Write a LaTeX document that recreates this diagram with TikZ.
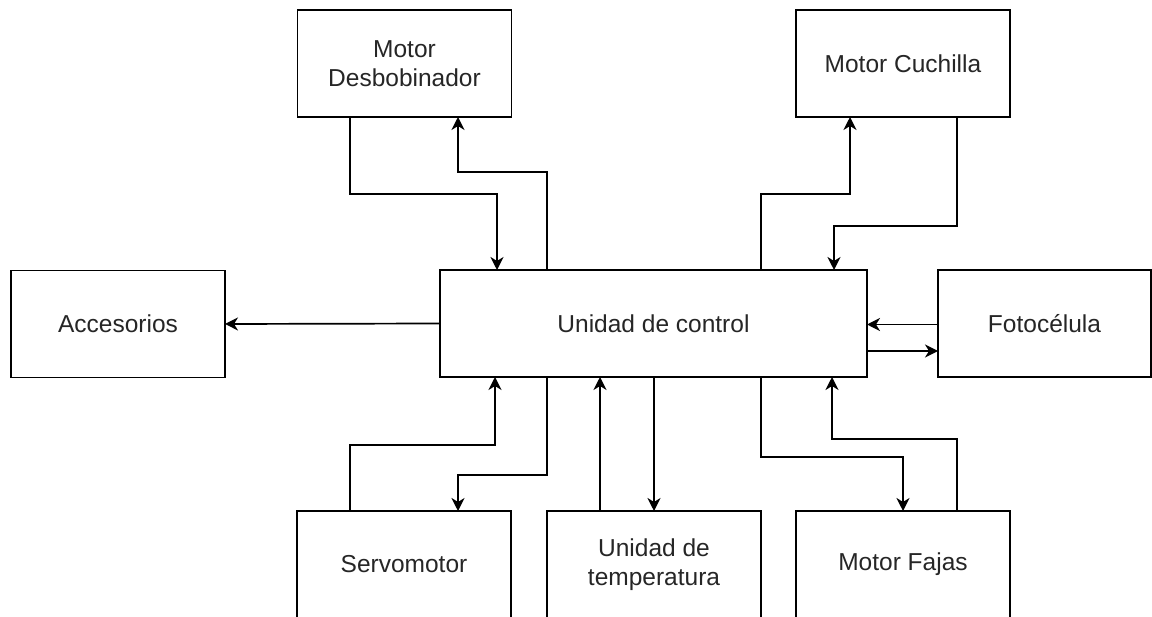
\documentclass[tikz,border=0pt]{standalone}
\usepackage{fontspec}
\setmainfont{Liberation Sans}
\usetikzlibrary{arrows.meta}
\begin{document}
\begin{tikzpicture}[x=1pt,y=-1pt,
  block/.style={draw, line width=1.7pt, outer sep=0pt, minimum width=214pt,
    minimum height=107pt, align=center, text=black!85,
    font=\fontsize{24.5}{28.5}\selectfont},
  arr/.style={line width=1.7pt, -{Stealth[length=13pt,width=13pt,inset=4pt]}}]
\useasboundingbox (0,0) rectangle (1152,617);
\fill[white] (0,0) rectangle (1152,617);
\clip (0,0) rectangle (1152,617);

% blocks
\node[block] (desb)  at (404.5,63.5) {Motor\\Desbobinador};
\node[block] (cuch)  at (903,63.5)   {Motor Cuchilla};
\node[block] (acc)   at (118,324)    {Accesorios};
\node[block, minimum width=427pt] (ctrl) at (653.5,323.5) {Unidad de control};
\node[block, minimum width=213pt] (foto) at (1044.5,323.5) {Fotocélula};
\node[block] (servo) at (404,564.5)  {Servomotor};
\node[block] (temp)  at (654,564.5)  {Unidad de\\temperatura};
\node[block] (fajas) at (903,564.5)  {Motor Fajas};

% upper links
\draw[arr] ([xshift=-54.5pt]desb.south) -- ++(0,77) -| ([xshift=-156.5pt]ctrl.north);
\draw[arr] ([xshift=-106.5pt]ctrl.north) -- ++(0,-98) -| ([xshift=53.5pt]desb.south);
\draw[arr] ([xshift=107.5pt]ctrl.north) -- ++(0,-76) -| ([xshift=-53pt]cuch.south);
\draw[arr] ([xshift=54pt]cuch.south) -- ++(0,109) -| ([xshift=180.5pt]ctrl.north);

% side links
\draw[arr] (ctrl.west) -- (acc.east);
\draw[arr] ([yshift=-1pt]foto.west) -- ([yshift=-1pt]ctrl.east);
\draw[arr] ([yshift=-27.5pt]ctrl.east) -- ([yshift=-27.5pt]foto.west);

% lower links
\draw[arr] ([xshift=-54pt]servo.north) -- ++(0,-66) -| ([xshift=-158.5pt]ctrl.south);
\draw[arr] ([xshift=-106.5pt]ctrl.south) -- ++(0,98) -| ([xshift=54pt]servo.north);
\draw[arr] ([xshift=-54pt]temp.north) -- ([xshift=-53.5pt]ctrl.south);
\draw[arr] ([xshift=0.5pt]ctrl.south) -- (temp.north);
\draw[arr] ([xshift=107.5pt]ctrl.south) -- ++(0,80) -| (fajas.north);
\draw[arr] ([xshift=54pt]fajas.north) -- ++(0,-72) -| ([xshift=178.5pt]ctrl.south);
\end{tikzpicture}
\end{document}
